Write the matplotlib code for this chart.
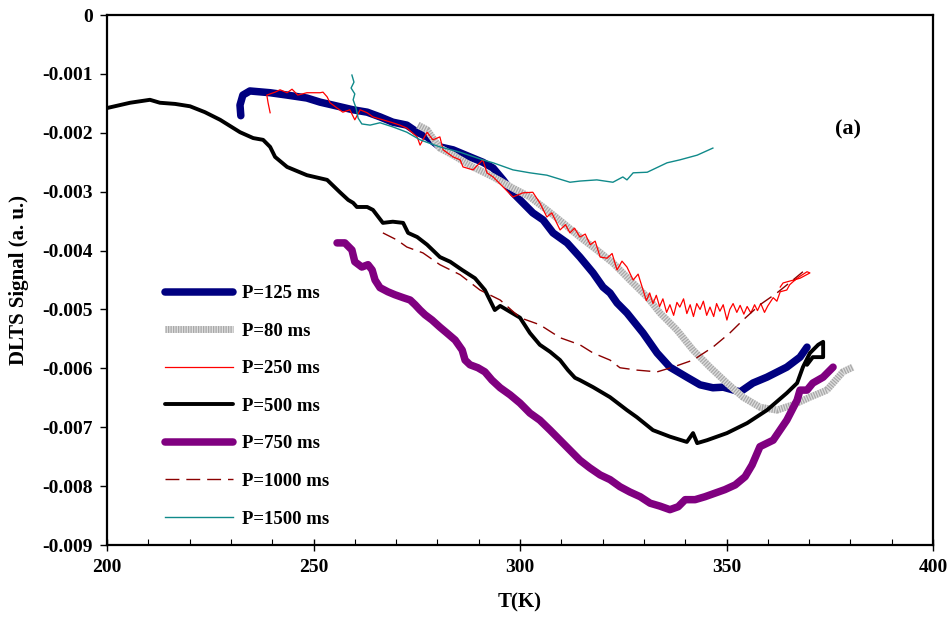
import matplotlib
matplotlib.use("Agg")
import matplotlib.pyplot as plt
from matplotlib.ticker import MultipleLocator, FixedLocator

plt.rcParams['font.family'] = ['Liberation Serif', 'DejaVu Serif']
plt.rcParams['font.weight'] = 'bold'

# ---------------- data ----------------
T_125 = [232.4, 232.2, 232.9, 234.6, 239.5, 243.6, 248.4, 251.6, 254.7, 259.6, 263.0, 266.1,
         269.2, 272.6, 275.1, 277.5, 280.6, 283.8, 287.9, 291.0, 293.5, 295.9, 298.3, 300.7,
         303.1, 305.6, 308.0, 311.4, 314.5, 317.7, 320.1, 321.8, 323.5, 325.9, 329.8, 333.2,
         336.3, 340.4, 343.6, 346.7, 349.2, 353.3, 356.4, 359.8, 364.6, 367.8, 369.5]
V_125 = [-0.00171, -0.00153, -0.00136, -0.00129, -0.00132, -0.00136, -0.00141, -0.00148,
         -0.00153, -0.00161, -0.00165, -0.00173, -0.00182, -0.00187, -0.00199, -0.00207,
         -0.00224, -0.00229, -0.00241, -0.00250, -0.00260, -0.00280, -0.00302, -0.00319,
         -0.00336, -0.00348, -0.00370, -0.00387, -0.00411, -0.00438, -0.00462, -0.00472,
         -0.00489, -0.00506, -0.00540, -0.00574, -0.00598, -0.00615, -0.00628, -0.00633,
         -0.00632, -0.00640, -0.00625, -0.00615, -0.00598, -0.00581, -0.00564]

T_80 = [275.3, 277.5, 280.6, 283.8, 288.6, 293.5, 298.3, 302.4, 306.5, 310.4, 314.5, 318.6,
        322.5, 326.6, 330.8, 333.9, 338.0, 341.9, 346.0, 350.1, 354.0, 358.1, 362.2, 366.1,
        370.2, 374.3, 378.2, 380.6]
V_80 = [-0.00187, -0.00195, -0.00226, -0.00238, -0.00258, -0.00275, -0.00294, -0.00309,
        -0.00331, -0.00353, -0.00377, -0.00399, -0.00421, -0.00450, -0.00479, -0.00506,
        -0.00535, -0.00569, -0.00598, -0.00625, -0.00649, -0.00666, -0.00671, -0.00662,
        -0.00649, -0.00637, -0.00606, -0.00598]

T_250 = [239.5, 239.0, 238.7, 240.7, 241.9, 243.6, 244.8, 246.2, 248.4, 250.4, 251.6, 252.3,
         253.3, 254.0, 255.7, 257.1, 258.8, 260.0, 261.3, 263.0, 264.4, 266.8, 269.2, 270.9,
         272.6, 275.1, 275.8, 277.5, 278.9, 280.6, 281.4, 283.8, 285.5, 286.2, 288.6, 291.0,
         292.0, 293.5, 295.9, 298.3, 300.7, 303.1, 304.8, 306.5, 307.7, 309.7, 311.0, 312.1,
         313.2, 314.5, 315.8, 317.0, 318.2, 319.4, 321.1, 322.3, 323.5, 324.7, 325.9, 327.4,
         328.6, 329.8, 330.6, 331.4, 332.2, 333.0, 333.8, 334.6, 335.5, 336.3, 337.2, 338.0,
         338.7, 339.6, 340.4, 341.2, 342.0, 342.8, 343.6, 344.4, 345.2, 346.0, 346.9, 347.6,
         348.4, 349.2, 350.1, 350.8, 351.6, 352.5, 353.3, 354.2, 355.0, 355.9, 356.8, 357.5,
         358.3, 359.2, 360.0, 361.3, 362.2, 363.0, 364.6, 365.3, 366.1, 367.5, 369.5, 370.2,
         367.8, 363.7, 363.0]
V_250 = [-0.00166, -0.00149, -0.00136, -0.00131, -0.00127, -0.00132, -0.00126, -0.00136,
         -0.00132, -0.00132, -0.00132, -0.00131, -0.00139, -0.00149, -0.00158, -0.00165,
         -0.00161, -0.00178, -0.00161, -0.00166, -0.00173, -0.00178, -0.00183, -0.00187,
         -0.00192, -0.00207, -0.00221, -0.00199, -0.00212, -0.00207, -0.00229, -0.00241,
         -0.00246, -0.00258, -0.00263, -0.00246, -0.00268, -0.00275, -0.00292, -0.00309,
         -0.00302, -0.00301, -0.00319, -0.00343, -0.00336, -0.00365, -0.00356, -0.00370,
         -0.00362, -0.00377, -0.00372, -0.00390, -0.00384, -0.00411, -0.00413, -0.00405,
         -0.00433, -0.00418, -0.00428, -0.00450, -0.00440, -0.00467, -0.00485, -0.00472,
         -0.00490, -0.00476, -0.00495, -0.00482, -0.00505, -0.00492, -0.00510, -0.00488,
         -0.00496, -0.00482, -0.00507, -0.00492, -0.00512, -0.00490, -0.00500, -0.00486,
         -0.00510, -0.00496, -0.00512, -0.00490, -0.00503, -0.00492, -0.00518, -0.00500,
         -0.00490, -0.00505, -0.00493, -0.00508, -0.00495, -0.00506, -0.00492, -0.00502,
         -0.00490, -0.00505, -0.00494, -0.00480, -0.00486, -0.00470, -0.00467, -0.00458,
         -0.00453, -0.00445, -0.00436, -0.00438, -0.00447, -0.00455, -0.00462]

T_500 = [200.0, 205.6, 210.4, 212.8, 216.5, 220.1, 223.7, 227.4, 232.2, 235.4, 237.8, 239.5,
         240.7, 243.6, 248.4, 253.3, 256.4, 258.4, 259.6, 260.5, 263.0, 264.4, 266.8, 269.2,
         271.7, 272.9, 275.1, 277.5, 280.6, 283.1, 286.0, 289.1, 291.5, 292.7, 293.9, 295.2,
         297.6, 300.0, 302.4, 304.8, 307.3, 309.7, 311.6, 313.3, 314.5, 317.7, 321.8, 325.9,
         328.3, 332.2, 336.3, 340.4, 341.9, 342.9, 345.3, 350.1, 355.0, 359.8, 364.6, 367.1,
         368.5, 370.2, 372.2, 373.4, 373.4, 370.9, 369.5]
V_500 = [-0.00158, -0.00149, -0.00144, -0.00149, -0.00151, -0.00155, -0.00165, -0.00178,
         -0.00199, -0.00209, -0.00212, -0.00224, -0.00241, -0.00258, -0.00272, -0.00280,
         -0.00301, -0.00314, -0.00319, -0.00326, -0.00326, -0.00331, -0.00353, -0.00351,
         -0.00353, -0.00370, -0.00377, -0.00390, -0.00411, -0.00419, -0.00433, -0.00447,
         -0.00467, -0.00484, -0.00501, -0.00494, -0.00504, -0.00514, -0.00540, -0.00560,
         -0.00572, -0.00586, -0.00603, -0.00616, -0.00620, -0.00632, -0.00649, -0.00671,
         -0.00683, -0.00705, -0.00716, -0.00725, -0.00710, -0.00727, -0.00722, -0.00710,
         -0.00693, -0.00671, -0.00642, -0.00625, -0.00598, -0.00574, -0.00560, -0.00555,
         -0.00581, -0.00581, -0.00594]

T_750 = [255.7, 257.6, 259.3, 260.0, 261.7, 263.2, 264.2, 264.9, 266.1, 268.0, 269.7, 271.7,
         273.4, 274.6, 275.8, 277.0, 278.7, 280.6, 282.3, 284.3, 286.0, 286.7, 287.9, 289.8,
         291.5, 293.2, 295.2, 297.6, 300.0, 302.4, 304.8, 307.3, 309.7, 312.1, 314.5, 316.9,
         319.4, 321.8, 324.2, 326.6, 329.1, 331.5, 333.9, 336.3, 338.3, 340.0, 342.4, 344.8,
         347.2, 349.6, 352.1, 354.5, 356.2, 358.1, 361.3, 364.6, 367.1, 367.8, 369.5, 370.9,
         373.4, 375.8]
V_750 = [-0.00387, -0.00387, -0.00399, -0.00419, -0.00428, -0.00424, -0.00433, -0.00450,
         -0.00463, -0.00470, -0.00475, -0.00480, -0.00484, -0.00492, -0.00501, -0.00509,
         -0.00518, -0.00530, -0.00540, -0.00552, -0.00569, -0.00586, -0.00594, -0.00599,
         -0.00606, -0.00620, -0.00633, -0.00645, -0.00659, -0.00676, -0.00688, -0.00705,
         -0.00722, -0.00739, -0.00756, -0.00769, -0.00781, -0.00789, -0.00801, -0.00810,
         -0.00818, -0.00829, -0.00834, -0.00840, -0.00835, -0.00823, -0.00823, -0.00818,
         -0.00812, -0.00806, -0.00798, -0.00784, -0.00764, -0.00733, -0.00722, -0.00688,
         -0.00654, -0.00637, -0.00637, -0.00625, -0.00615, -0.00598]

T_1000 = [266.8, 270.2, 272.6, 276.5, 280.6, 285.5, 290.3, 295.2, 300.0, 304.8, 309.7, 314.5,
          317.7, 321.8, 324.2, 328.3, 333.2, 337.0, 341.9, 346.7, 350.8, 354.0, 358.1, 362.2,
          366.1, 368.5]
V_1000 = [-0.00370, -0.00382, -0.00394, -0.00404, -0.00424, -0.00441, -0.00467, -0.00484,
          -0.00514, -0.00526, -0.00548, -0.00560, -0.00574, -0.00586, -0.00599, -0.00603,
          -0.00606, -0.00598, -0.00586, -0.00564, -0.00540, -0.00518, -0.00492, -0.00472,
          -0.00450, -0.00436]

T_1500 = [259.3, 259.8, 259.1, 260.0, 259.6, 260.3, 260.8, 261.7, 263.7, 266.1, 269.2, 272.6,
          275.8, 280.6, 285.5, 291.0, 293.5, 298.3, 302.4, 306.5, 312.1, 314.5, 318.6, 322.5,
          324.9, 325.9, 327.4, 330.8, 335.6, 338.7, 342.9, 346.7]
V_1500 = [-0.00102, -0.00114, -0.00124, -0.00134, -0.00144, -0.00158, -0.00175, -0.00185,
          -0.00187, -0.00183, -0.00190, -0.00199, -0.00212, -0.00224, -0.00233, -0.00246,
          -0.00251, -0.00263, -0.00268, -0.00272, -0.00284, -0.00282, -0.00280, -0.00284,
          -0.00275, -0.00280, -0.00268, -0.00267, -0.00251, -0.00246, -0.00238, -0.00226]

labels = ["P=125 ms", "P=80 ms", "P=250 ms", "P=500 ms", "P=750 ms", "P=1000 ms", "P=1500 ms"]
x_ticks = [200, 250, 300, 350, 400]
y_ticks = [0, -0.001, -0.002, -0.003, -0.004, -0.005, -0.006, -0.007, -0.008, -0.009]
y_ticklabels = ["0", "-0.001", "-0.002", "-0.003", "-0.004", "-0.005", "-0.006", "-0.007",
                "-0.008", "-0.009"]
panel_label = "(a)"

# ---------------- figure ----------------
fig = plt.figure(figsize=(9.52, 6.22), dpi=100)
ax = fig.add_axes([107 / 952, 1 - 545 / 622, 826 / 952, 530 / 622])

h125, = ax.plot(T_125, V_125, color='#000080', lw=5.4, solid_capstyle='round',
                solid_joinstyle='round', zorder=2)
h80a, = ax.plot(T_80, V_80, color='#dedede', lw=5, solid_capstyle='butt', zorder=3)
h80b, = ax.plot(T_80, V_80, color='#a8a8a8', lw=5, linestyle=(0, (0.18, 0.18)),
                dash_capstyle='butt', zorder=3)
h500, = ax.plot(T_500, V_500, color='black', lw=2.8, solid_capstyle='round',
                solid_joinstyle='round', zorder=4)
h750, = ax.plot(T_750, V_750, color='#800080', lw=5.4, solid_capstyle='round',
                solid_joinstyle='round', zorder=5)
h250, = ax.plot(T_250, V_250, color='#ff0000', lw=0.9, zorder=6)
h1000, = ax.plot(T_1000, V_1000, color='#8b0000', lw=1.0, dashes=(10, 5), zorder=6)
h1500, = ax.plot(T_1500, V_1500, color='#108a8a', lw=1.0, zorder=7)

ax.set_xlim(200, 400)
ax.set_ylim(-0.009, 0)
ax.xaxis.set_major_locator(FixedLocator(x_ticks))
ax.xaxis.set_minor_locator(MultipleLocator(10))
ax.yaxis.set_major_locator(FixedLocator(y_ticks))
ax.set_yticklabels(y_ticklabels)
ax.set_xticklabels([str(v) for v in x_ticks])

for sp in ax.spines.values():
    sp.set_linewidth(1.6)

ax.tick_params(axis='x', which='major', direction='inout', length=8, width=1.0,
               labelsize=14, pad=6)
ax.tick_params(axis='x', which='minor', direction='in', length=4, width=0.8)
ax.tick_params(axis='y', which='major', direction='out', length=5, width=1.0,
               labelsize=14, pad=5)
for t in ax.get_xticklabels() + ax.get_yticklabels():
    t.set_fontweight('bold')

ax.set_xlabel("T(K)", fontsize=15, fontweight='bold', labelpad=12)
ax.set_ylabel("DLTS Signal (a. u.)", fontsize=15, fontweight='bold', labelpad=10)

ax.text(379.5, -0.00195, panel_label, fontsize=16, fontweight='bold', ha='center', va='center')

leg = ax.legend([h125, (h80a, h80b), h250, h500, h750, h1000, h1500], labels,
                loc='upper left', bbox_to_anchor=((165 - 107) / 826, (545 - 285) / 530),
                frameon=False, handlelength=3.6, handletextpad=0.5,
                labelspacing=1.09, borderpad=0, borderaxespad=0,
                prop={'weight': 'bold', 'size': 13.5})

fig.savefig("out.png", dpi=100)
